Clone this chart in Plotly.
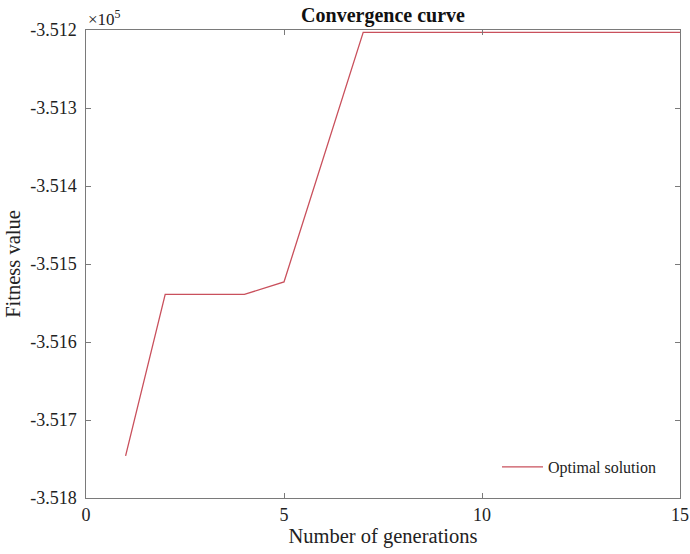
import plotly.graph_objects as go

generations = [1, 2, 3, 4, 5, 6, 7, 8, 9, 10, 11, 12, 13, 14, 15]
fitness = [-351746, -351539, -351539, -351539, -351523, -351363, -351203,
           -351203, -351203, -351203, -351203, -351203, -351203, -351203, -351203]
x_ticks = [0, 5, 10, 15]
y_ticks = [-351800, -351700, -351600, -351500, -351400, -351300, -351200]
y_tick_text = ["-3.518", "-3.517", "-3.516", "-3.515", "-3.514", "-3.513", "-3.512"]

FONT = "Liberation Serif, Times New Roman, serif"
AXC = "#7a7a7a"

fig = go.Figure()
fig.add_trace(go.Scatter(x=generations, y=fitness, mode="lines",
                         line=dict(color="#c9505c", width=1.3),
                         name="Optimal solution"))

fig.update_layout(
    width=690, height=554,
    margin=dict(l=86, r=10, t=30, b=56, autoexpand=False),
    paper_bgcolor="white", plot_bgcolor="white",
    font=dict(family=FONT, size=18, color="#222222"),
    title=dict(text="<b>Convergence curve</b>", x=383 / 690, xanchor="center",
               y=1 - 15 / 554, yanchor="middle", font=dict(size=20, color="#111111")),
    showlegend=True,
    legend=dict(x=(497 - 86) / 594, y=(498 - 467) / 468, xanchor="left", yanchor="middle",
                bgcolor="rgba(0,0,0,0)", borderwidth=0, font=dict(size=16),
                itemwidth=41),
    xaxis=dict(range=[0, 15], tickvals=x_ticks, ticks="inside", ticklen=5,
               tickcolor=AXC, showline=True, linecolor=AXC, linewidth=1.2,
               mirror="allticks", showgrid=False, zeroline=False, automargin=False,
               title=dict(text="Number of generations", standoff=2, font=dict(size=20.5))),
    yaxis=dict(range=[-351800, -351200], tickvals=y_ticks,
               ticktext=[t + "\u2005" for t in y_tick_text],
               ticks="inside", ticklen=5, tickcolor=AXC, showline=True,
               linecolor=AXC, linewidth=1.2, mirror="allticks", showgrid=False,
               zeroline=False, automargin=False,
               title=dict(text="Fitness value", standoff=4, font=dict(size=20.5))),
    annotations=[dict(text="×10<sup>5</sup>", xref="paper", yref="paper",
                      x=0, y=1, xanchor="left", yanchor="bottom", showarrow=False,
                      font=dict(size=17, family=FONT, color="#222222"), yshift=-1)],
)

fig.write_html("out.html")
